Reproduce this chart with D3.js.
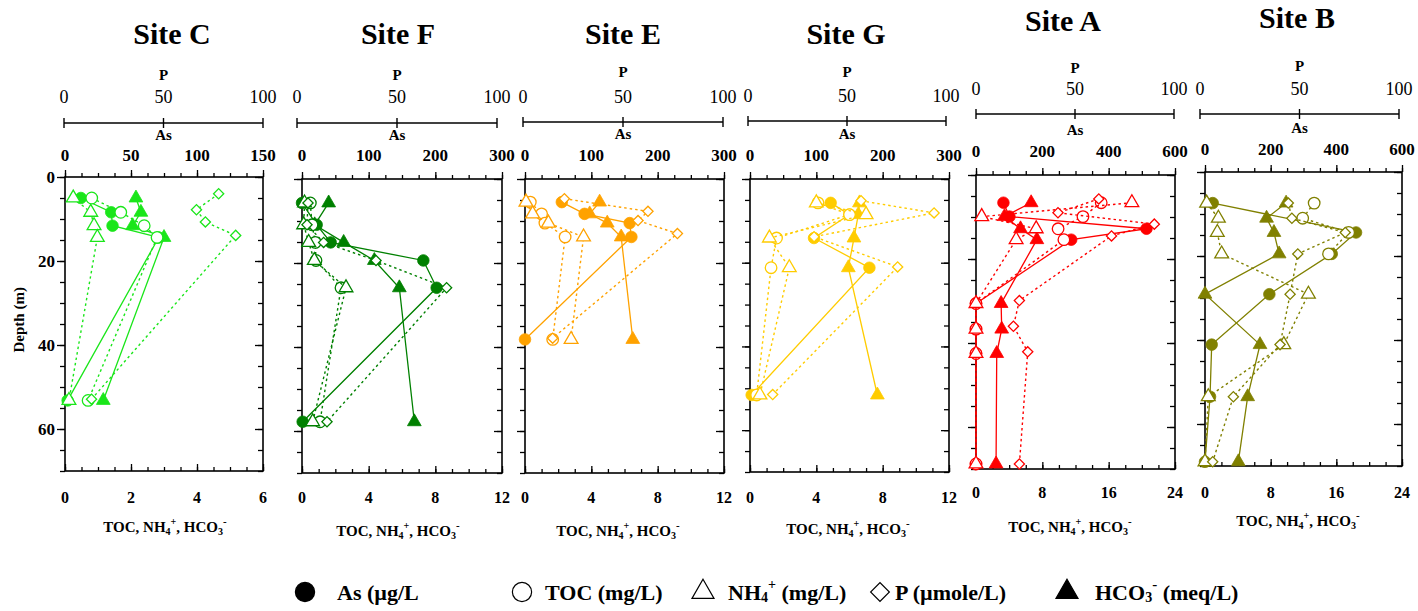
<!DOCTYPE html>
<html>
<head>
<meta charset="utf-8">
<script src="https://cdn.jsdelivr.net/npm/d3@7"></script>
<style>
  body { margin: 0; background: #fff; }
  svg { display: block; font-family: "Liberation Serif", "Times New Roman", serif; }
</style>
</head>
<body>
<svg id="chart" width="1418" height="611"></svg>
<script>
// ---- panel order, colours, axis ranges ----
const sites = ["Site C", "Site F", "Site E", "Site G", "Site A", "Site B"];
const siteColors = ["#1ae61a", "#008000", "#ffa200", "#ffcc00", "#ff0000", "#808000"];
const chemMax = [6, 12, 12, 12, 24, 24];
const asMax = [150, 300, 300, 300, 600, 600];
const chemTicks = [[0, 2, 4, 6], [0, 4, 8, 12], [0, 4, 8, 12], [0, 4, 8, 12], [0, 8, 16, 24], [0, 8, 16, 24]];
const asTicks = [[0, 50, 100, 150], [0, 100, 200, 300], [0, 100, 200, 300], [0, 100, 200, 300], [0, 200, 400, 600], [0, 200, 400, 600]];
const pTicks = [0, 50, 100];
const depthTicks = [0, 20, 40, 60];

// ---- Site C ----
const depthC = [5.0, 8.4, 11.6, 14.4, 53.2];
const pDepthC = [4.0, 7.8, 10.7, 13.9, 52.9];
const asC = [12, 35, 36, 71, 2];
const tocC = [0.81, 1.69, 2.4, 2.79, 0.7];
const nh4C = [0.25, 0.78, 0.88, 0.98, 0.12];
const pC = [77.6, 66.4, 70.9, 86.2, 13.4];
const hco3C = [2.15, 2.3, 2.05, 3.0, 1.16];

// ---- Site F ----
const depthF = [5.7, 10.9, 15.1, 19.4, 25.9, 57.8];
const pDepthF = [5.7, 10.9, 15.1, 19.4, 25.9, 57.8];
const asF = [0, 22, 43, 182, 202, 1];
const tocF = [0.5, 0.6, 0.8, 0.84, 2.34, 1.08];
const nh4F = [0.15, 0.1, 0.4, 0.74, 2.64, 0.64];
const pF = [3, 2.5, 10.8, 37, 72.3, 12.5];
const hco3F = [1.6, 0.76, 2.5, 4.34, 5.84, 6.74];

// ---- Site E ----
const depthE = [5.5, 8.3, 10.5, 13.8, 38.2];
const pDepthE = [4.7, 7.7, 9.9, 13.0, 37.9];
const asE = [55.5, 89.8, 157.8, 160.4, 0];
const tocE = [0.32, 1.0, 1.2, 2.42, 1.67];
const nh4E = [0.06, 0.46, 1.41, 3.53, 2.78];
const pE = [19.8, 61.8, 56.8, 76.6, 13.9];
const hco3E = [4.5, 3.9, 4.96, 5.8, 6.5];

// ---- Site G ----
const depthG = [5.7, 8.5, 14.1, 21.2, 51.6];
const pDepthG = [5.2, 8.1, 13.8, 21.0, 51.5];
const asG = [121.6, 150, 96.5, 180, 2.5];
const tocG = [4.1, 6.0, 1.6, 1.27, 0.4];
const nh4G = [4.0, 7.0, 1.17, 2.37, 0.6];
const pG = [55.8, 92.5, 32.2, 74.2, 11.4];
const hco3G = [6.6, 6.53, 6.27, 5.93, 7.68];

// ---- Site A ----
const depthA = [6.6, 9.9, 12.8, 15.4, 30.6, 36.7, 42.5, 68.8];
const pDepthA = [5.7, 9.0, 11.7, 14.5, 29.9, 36.0, 42.1, 68.8];
const asA = [82.7, 100.8, 514, 287, 0, 0, 0, 0];
const tocA = [15.1, 12.9, 9.9, 10.6, 0, 0, 0, 0];
const nh4A = [18.8, 0.69, 7.26, 4.84, 0, 0, 0, 0];
const pA = [61.7, 41.2, 89.6, 68.1, 21.8, 18.8, 26, 21.8];
const hco3A = [6.65, 3.43, 5.37, 7.34, 3.03, 3.1, 2.5, 2.42];

// ---- Site B ----
const depthB = [7.4, 11.0, 14.4, 19.5, 29.1, 41.1, 53.5, 69.0];
const pDepthB = [7.4, 11.0, 14.4, 19.5, 29.1, 41.1, 53.5, 69.0];
const asB = [23.5, null, 460, 386, 196, 20.4, 15.3, 0];
const tocB = [13.3, 11.9, 17.5, 15.05, null, null, null, null];
const nh4B = [0.2, 1.63, 1.5, 2.03, 12.6, 9.6, 0.4, 0];
const pB = [42.3, 44.1, 71.2, 47.1, 43.2, 38.1, 14.4, 3.9];
const hco3B = [9.88, 7.5, 8.4, 9.03, 0, 6.7, 5.2, 4.06];

const siteData = [
  { depth: depthC, pDepth: pDepthC, as: asC, toc: tocC, nh4: nh4C, p: pC, hco3: hco3C },
  { depth: depthF, pDepth: pDepthF, as: asF, toc: tocF, nh4: nh4F, p: pF, hco3: hco3F },
  { depth: depthE, pDepth: pDepthE, as: asE, toc: tocE, nh4: nh4E, p: pE, hco3: hco3E },
  { depth: depthG, pDepth: pDepthG, as: asG, toc: tocG, nh4: nh4G, p: pG, hco3: hco3G },
  { depth: depthA, pDepth: pDepthA, as: asA, toc: tocA, nh4: nh4A, p: pA, hco3: hco3A },
  { depth: depthB, pDepth: pDepthB, as: asB, toc: tocB, nh4: nh4B, p: pB, hco3: hco3B }
];

// ---- layout (pixels) ----
// plot frame: [left, top, right, bottom]
const boxes = [[65, 177, 263, 471], [302, 179, 502, 473], [525, 179, 724, 473],
               [750, 179, 949, 472], [976, 175, 1175, 469], [1205, 172, 1402, 466]];
// upper P/As scale bar: [lineY, x0, x1, titleY, pLabelY, pNumY, asLabelY, asNumY]
const topBars = [[123, 64, 263, 33, 75, 97, 135, 155], [123, 297, 497, 33, 75, 97, 135, 155],
                 [122, 523, 723, 33, 72, 97, 134, 155], [121, 748, 946, 33, 72, 96, 134, 155],
                 [114, 976, 1174, 20, 68, 89, 130, 151], [114, 1200, 1399, 17, 66, 89, 128, 149]];
const titleX = [172, 398, 623, 846, 1063, 1297];
// lower axis: [numbersY, captionX, captionY]
const bottomText = [[497, 165, 527], [497, 398, 531], [497, 618, 531], [497, 848, 529],
                    [492, 1070, 527], [492, 1298, 521]];

const svg = d3.select("#chart");
const DEPTH_MAX = 70;

const circleSym = d3.symbol().type(d3.symbolCircle).size(105);
const triSym = d3.symbol().type(d3.symbolTriangle).size(82);
const diaSym = d3.symbol().type(d3.symbolSquare).size(52);

function markerPath(kind) {
  if (kind === "circle") return circleSym();
  if (kind === "tri") return triSym();
  return diaSym();
}

function drawSeries(g, pts, kind, filled, dashed, color) {
  const valid = pts.filter(d => d[0] != null && d[1] != null);
  const line = d3.line().x(d => d[0]).y(d => d[1]);
  g.append("path")
    .attr("d", line(valid))
    .attr("fill", "none")
    .attr("stroke", color)
    .attr("stroke-width", dashed ? 1.4 : 1.3)
    .attr("stroke-dasharray", dashed ? "2.5,3" : null);
  g.selectAll(null).data(valid).enter().append("path")
    .attr("d", markerPath(kind))
    .attr("transform", d => `translate(${d[0]},${d[1]})` + (kind === "dia" ? " rotate(45)" : ""))
    .attr("fill", filled ? color : "#fff")
    .attr("stroke", color)
    .attr("stroke-width", filled ? 0.8 : 1.3);
}

function drawPanel(i) {
  const s = siteData[i];
  const [x1, y1, x2, y2] = boxes[i];
  const color = siteColors[i];
  const xChem = d3.scaleLinear().domain([0, chemMax[i]]).range([x1, x2]);
  const xAs = d3.scaleLinear().domain([0, asMax[i]]).range([x1, x2]);
  const xP = d3.scaleLinear().domain([0, 100]).range([x1, x2]);
  const y = d3.scaleLinear().domain([0, DEPTH_MAX]).range([y1, y2]);
  const g = svg.append("g");

  // ticks on all four sides of the frame
  const minorX = d3.range(0, 13).map(k => k * chemMax[i] / 12);
  const minorY = d3.range(0, 15).map(k => k * 5);
  const noDomain = sel => sel.select(".domain").remove();
  const tickStyle = sel => sel.selectAll("line").attr("stroke", "#000").attr("stroke-width", 1.3);

  g.append("g").attr("transform", `translate(0,${y2})`)
    .call(d3.axisBottom(xChem).tickValues(minorX).tickSize(-4).tickFormat(""))
    .call(noDomain).call(tickStyle);
  g.append("g").attr("transform", `translate(0,${y2})`)
    .call(d3.axisBottom(xChem).tickValues(chemTicks[i]).tickSize(-7).tickFormat(""))
    .call(noDomain).call(tickStyle);
  g.append("g").attr("transform", `translate(0,${y1})`)
    .call(d3.axisTop(xChem).tickValues(minorX).tickSize(4).tickFormat(""))
    .call(noDomain).call(tickStyle);
  g.append("g").attr("transform", `translate(0,${y1})`)
    .call(d3.axisTop(xChem).tickValues(chemTicks[i]).tickSize(7).tickFormat(""))
    .call(noDomain).call(tickStyle);
  g.append("g").attr("transform", `translate(${x1},0)`)
    .call(d3.axisLeft(y).tickValues(minorY).tickSize(5).tickFormat(""))
    .call(noDomain).call(tickStyle);
  g.append("g").attr("transform", `translate(${x1},0)`)
    .call(d3.axisLeft(y).tickValues(depthTicks).tickSize(8).tickFormat(""))
    .call(noDomain).call(tickStyle);
  g.append("g").attr("transform", `translate(${x2},0)`)
    .call(d3.axisRight(y).tickValues(minorY).tickSize(-5).tickFormat(""))
    .call(noDomain).call(tickStyle);
  g.append("g").attr("transform", `translate(${x2},0)`)
    .call(d3.axisRight(y).tickValues(depthTicks).tickSize(-8).tickFormat(""))
    .call(noDomain).call(tickStyle);

  // frame
  g.append("rect")
    .attr("x", x1).attr("y", y1).attr("width", x2 - x1).attr("height", y2 - y1)
    .attr("fill", "none").attr("stroke", "#000").attr("stroke-width", 1.6);

  // bottom numbers and caption
  const [numY, capX, capY] = bottomText[i];
  g.selectAll(null).data(chemTicks[i]).enter().append("text")
    .attr("x", d => xChem(d)).attr("y", numY)
    .attr("text-anchor", "middle").attr("dominant-baseline", "central")
    .attr("font-weight", "bold").attr("font-size", 16)
    .text(d => d);
  const cap = g.append("text")
    .attr("x", capX).attr("y", capY)
    .attr("text-anchor", "middle").attr("dominant-baseline", "central")
    .attr("font-weight", "bold").attr("font-size", 15);
  cap.append("tspan").text("TOC, NH");
  cap.append("tspan").attr("font-size", 10).attr("dy", 4).text("4");
  cap.append("tspan").attr("font-size", 10).attr("dy", -10).text("+");
  cap.append("tspan").attr("dy", 6).text(", HCO");
  cap.append("tspan").attr("font-size", 10).attr("dy", 4).text("3");
  cap.append("tspan").attr("font-size", 11).attr("dy", -10).text("-");

  // upper scale bar for P and As
  const [barY, bx0, bx1, tY, pLabY, pNumY, asLabY, asNumY] = topBars[i];
  const barP = d3.scaleLinear().domain([0, 100]).range([bx0, bx1]);
  g.append("line").attr("x1", bx0).attr("x2", bx1).attr("y1", barY).attr("y2", barY)
    .attr("stroke", "#000").attr("stroke-width", 1.4);
  g.selectAll(null).data(pTicks).enter().append("line")
    .attr("x1", d => barP(d)).attr("x2", d => barP(d))
    .attr("y1", barY - 5).attr("y2", barY + 5)
    .attr("stroke", "#000").attr("stroke-width", 1.4);
  g.selectAll(null).data(pTicks).enter().append("text")
    .attr("x", d => barP(d)).attr("y", pNumY)
    .attr("text-anchor", "middle").attr("dominant-baseline", "central")
    .attr("font-size", 18).text(d => d);
  g.append("text").attr("x", (bx0 + bx1) / 2).attr("y", pLabY)
    .attr("text-anchor", "middle").attr("dominant-baseline", "central")
    .attr("font-weight", "bold").attr("font-size", 15).text("P");
  g.append("text").attr("x", (bx0 + bx1) / 2).attr("y", asLabY)
    .attr("text-anchor", "middle").attr("dominant-baseline", "central")
    .attr("font-weight", "bold").attr("font-size", 15).text("As");
  g.selectAll(null).data(asTicks[i]).enter().append("text")
    .attr("x", d => xAs(d)).attr("y", asNumY)
    .attr("text-anchor", "middle").attr("dominant-baseline", "central")
    .attr("font-weight", "bold").attr("font-size", 17).text(d => d);

  // site title
  g.append("text").attr("x", titleX[i]).attr("y", tY)
    .attr("text-anchor", "middle").attr("dominant-baseline", "central")
    .attr("font-weight", "bold").attr("font-size", 30).text(sites[i]);

  // depth profiles
  const pts = (vals, sc, dep) => vals.map((v, k) => [v == null ? null : sc(v), y(dep[k])]);
  drawSeries(g, pts(s.as, xAs, s.depth), "circle", true, false, color);
  drawSeries(g, pts(s.hco3, xChem, s.depth), "tri", true, false, color);
  drawSeries(g, pts(s.toc, xChem, s.depth), "circle", false, true, color);
  drawSeries(g, pts(s.nh4, xChem, s.depth), "tri", false, true, color);
  drawSeries(g, pts(s.p, xP, s.pDepth), "dia", false, true, color);

  // depth labels on the first panel only
  if (i === 0) {
    g.selectAll(null).data(depthTicks).enter().append("text")
      .attr("x", x1 - 10).attr("y", d => y(d))
      .attr("text-anchor", "end").attr("dominant-baseline", "central")
      .attr("font-weight", "bold").attr("font-size", 17).text(d => d);
    g.append("text")
      .attr("transform", `translate(19,${y(34)}) rotate(-90)`)
      .attr("text-anchor", "middle").attr("dominant-baseline", "central")
      .attr("font-weight", "bold").attr("font-size", 15).text("Depth (m)");
  }
}

sites.forEach((_, i) => drawPanel(i));

// ---- legend ----
const legendLabels = ["As (µg/L", "TOC (mg/L)", "NH4+ (mg/L)", "P (µmole/L)", "HCO3- (meq/L)"];
const legendMarkX = [305, 522, 703, 880, 1067];
const legendTextX = [337, 545, 728, 895, 1095];
const legendKinds = [["circle", true], ["circle", false], ["tri", false], ["dia", false], ["tri", true]];
const LEG_Y = 592;
const legCircle = d3.symbol().type(d3.symbolCircle).size(290);
const legTri = d3.symbol().type(d3.symbolTriangle).size(210);
const legDia = d3.symbol().type(d3.symbolSquare).size(175);
const lg = svg.append("g");
legendKinds.forEach(([kind, filled], k) => {
  const sym = kind === "circle" ? legCircle : kind === "tri" ? legTri : legDia;
  lg.append("path")
    .attr("d", sym())
    .attr("transform", `translate(${legendMarkX[k]},${LEG_Y})` + (kind === "dia" ? " rotate(45)" : ""))
    .attr("fill", filled ? "#000" : "#fff")
    .attr("stroke", "#000").attr("stroke-width", 1.2);
  const t = lg.append("text").attr("x", legendTextX[k]).attr("y", LEG_Y)
    .attr("dominant-baseline", "central")
    .attr("font-weight", "bold").attr("font-size", 22);
  const label = legendLabels[k];
  if (k === 2) {
    t.append("tspan").text("NH");
    t.append("tspan").attr("font-size", 14).attr("dy", 5).text("4");
    t.append("tspan").attr("font-size", 14).attr("dy", -13).text("+");
    t.append("tspan").attr("dy", 8).text(" (mg/L)");
  } else if (k === 4) {
    t.append("tspan").text("HCO");
    t.append("tspan").attr("font-size", 14).attr("dy", 5).text("3");
    t.append("tspan").attr("font-size", 15).attr("dy", -13).text("-");
    t.append("tspan").attr("dy", 8).text(" (meq/L)");
  } else {
    t.text(label);
  }
});
</script>
</body>
</html>
